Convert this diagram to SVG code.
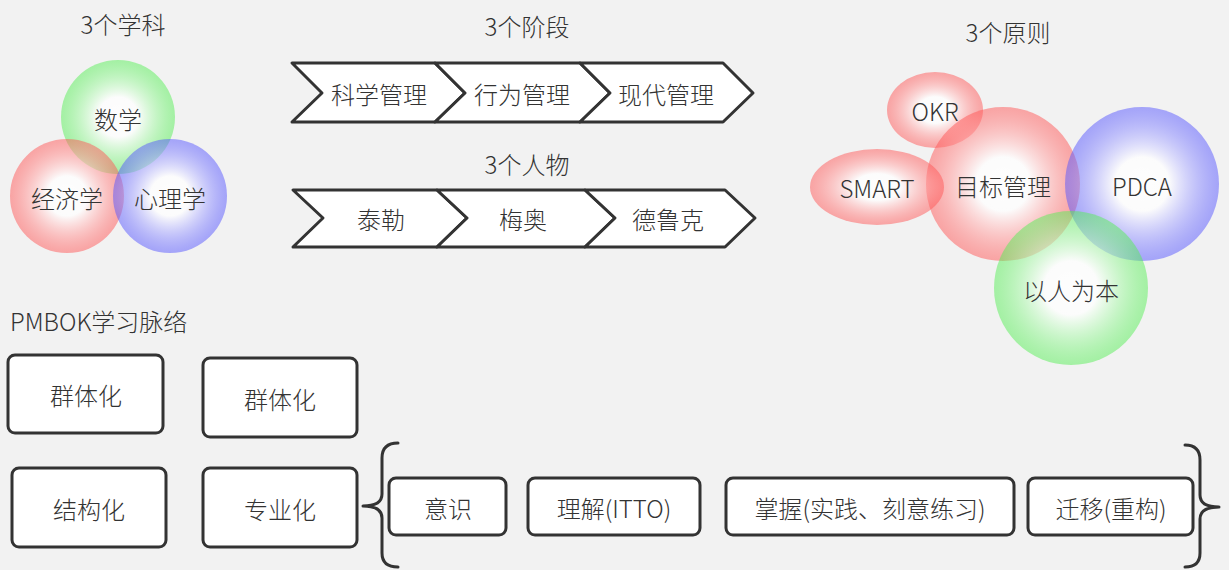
<svg xmlns="http://www.w3.org/2000/svg" width="1229" height="570" viewBox="0 0 1229 570">
<style>
text{font-family:"Noto Sans CJK SC","Microsoft YaHei",sans-serif;fill:#333;font-size:24px;font-weight:300;text-anchor:middle;dominant-baseline:central}
.title{font-size:24px}
.shape{fill:#fff;stroke:#333;stroke-width:3;stroke-linejoin:round}
.brace{fill:none;stroke:#333;stroke-width:3;stroke-linecap:round;stroke-linejoin:round}
</style>
<defs>
<radialGradient id="gRed"><stop offset="0" stop-color="#fff" stop-opacity="0.9"/><stop offset="0.35" stop-color="#fff" stop-opacity="0.75"/><stop offset="1" stop-color="#f55" stop-opacity="0.5"/></radialGradient>
<radialGradient id="gGreen"><stop offset="0" stop-color="#fff" stop-opacity="0.9"/><stop offset="0.35" stop-color="#fff" stop-opacity="0.75"/><stop offset="1" stop-color="#5e5" stop-opacity="0.5"/></radialGradient>
<radialGradient id="gBlue"><stop offset="0" stop-color="#fff" stop-opacity="0.9"/><stop offset="0.35" stop-color="#fff" stop-opacity="0.75"/><stop offset="1" stop-color="#55f" stop-opacity="0.5"/></radialGradient>
</defs>
<rect width="1229" height="570" fill="#f2f2f2"/>

<g id="titles">
<text class="title" x="123" y="23">3个学科</text>
<text class="title" x="527" y="25">3个阶段</text>
<text class="title" x="527" y="163">3个人物</text>
<text class="title" x="1008" y="31">3个原则</text>
<text class="title" x="10" y="320" style="text-anchor:start">PMBOK学习脉络</text>
</g>

<g id="subjects">
<g id="n-math"><circle cx="118" cy="117" r="57" fill="url(#gGreen)"/><text x="118" y="118">数学</text></g>
<g id="n-econ"><circle cx="67" cy="196" r="57" fill="url(#gRed)"/><text x="67" y="197">经济学</text></g>
<g id="n-psy"><circle cx="170" cy="196" r="57" fill="url(#gBlue)"/><text x="170" y="197">心理学</text></g>
</g>

<g id="stages">
<g id="n-s1"><polygon class="shape" points="292,63 435,63 465,93 435,122 292,122 322,93"/><text x="379" y="93">科学管理</text></g>
<g id="n-s2"><polygon class="shape" points="435,63 580,63 610,93 580,122 435,122 465,93"/><text x="522" y="93">行为管理</text></g>
<g id="n-s3"><polygon class="shape" points="580,63 723,63 753,93 723,122 580,122 610,93"/><text x="666" y="93">现代管理</text></g>
</g>

<g id="people">
<g id="n-p1"><polygon class="shape" points="293,190 437,190 467,218 437,247 293,247 323,218"/><text x="381" y="218">泰勒</text></g>
<g id="n-p2"><polygon class="shape" points="437,190 585,190 615,218 585,247 437,247 467,218"/><text x="523" y="218">梅奥</text></g>
<g id="n-p3"><polygon class="shape" points="585,190 725,190 755,218 725,247 585,247 615,218"/><text x="668" y="218">德鲁克</text></g>
</g>

<g id="principles">
<g id="n-okr"><ellipse cx="935" cy="110" rx="48" ry="38" fill="url(#gRed)"/><text x="935" y="110">OKR</text></g>
<g id="n-mbo"><circle cx="1003" cy="184" r="77" fill="url(#gRed)"/><text x="1003" y="185">目标管理</text></g>
<g id="n-smart"><ellipse cx="877" cy="187" rx="67" ry="38" fill="url(#gRed)"/><text x="877" y="187">SMART</text></g>
<g id="n-pdca"><circle cx="1142" cy="184" r="77" fill="url(#gBlue)"/><text x="1142" y="185">PDCA</text></g>
<g id="n-people"><circle cx="1071" cy="288" r="77" fill="url(#gGreen)"/><text x="1071" y="289">以人为本</text></g>
</g>

<g id="pmbok">
<g id="n-b1"><rect class="shape" x="8" y="355" width="155" height="78" rx="7"/><text x="86" y="394">群体化</text></g>
<g id="n-b2"><rect class="shape" x="203" y="358" width="154" height="79" rx="7"/><text x="280" y="398">群体化</text></g>
<g id="n-b3"><rect class="shape" x="12" y="468" width="154" height="79" rx="7"/><text x="89" y="508">结构化</text></g>
<g id="n-b4"><rect class="shape" x="203" y="468" width="154" height="79" rx="7"/><text x="280" y="508">专业化</text></g>
<g id="n-i1"><rect class="shape" x="389" y="478" width="117" height="57" rx="7"/><text x="448" y="507">意识</text></g>
<g id="n-i2"><rect class="shape" x="528" y="478" width="172" height="57" rx="7"/><text x="614" y="507">理解(ITTO)</text></g>
<g id="n-i3"><rect class="shape" x="726" y="478" width="288" height="57" rx="7"/><text x="870" y="507">掌握(实践、刻意练习)</text></g>
<g id="n-i4"><rect class="shape" x="1028" y="478" width="165" height="57" rx="7"/><text x="1111" y="507">迁移(重构)</text></g>
</g>

<g id="connectors">
<path class="brace" d="M398,443 Q382,443 382,458 L382,494 Q382,506 363,506 Q382,506 382,518 L382,553 Q382,567 398,567"/>
<path class="brace" d="M1185,445 Q1200,445 1200,460 L1200,495 Q1200,507 1219,507 Q1200,507 1200,519 L1200,553 Q1200,567 1185,567"/>
</g>
</svg>
